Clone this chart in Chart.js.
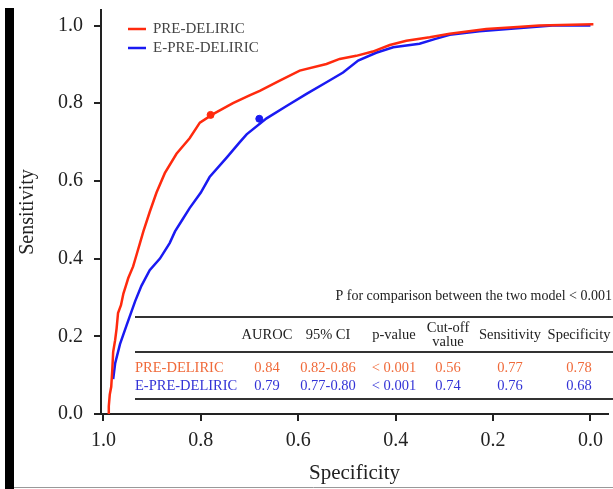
<!DOCTYPE html>
<html>
<head>
<meta charset="utf-8">
<script src="https://cdn.jsdelivr.net/npm/chart.js@4.4.1/dist/chart.umd.min.js"></script>
<style>
  html, body { margin: 0; padding: 0; background: #fff; }
  #wrap { width: 613px; height: 489px; position: relative; }
</style>
</head>
<body>
<div id="wrap"><canvas id="rocChart" width="613" height="489"></canvas></div>
<script>
// ROC curves: specificity (x, reversed axis) and sensitivity (y)
const seriesNames = ['PRE-DELIRIC', 'E-PRE-DELIRIC'];

const preSpec = [0.990, 0.989, 0.987, 0.984, 0.982, 0.980, 0.976, 0.973, 0.970, 0.964, 0.959, 0.954, 0.949, 0.939, 0.932, 0.925, 0.918, 0.905, 0.891, 0.874, 0.850, 0.823, 0.802, 0.775, 0.734, 0.700, 0.679, 0.638, 0.597, 0.542, 0.515, 0.481, 0.447, 0.412, 0.378, 0.330, 0.289, 0.214, 0.150, 0.105, -0.006];
const preSens = [0.000, 0.020, 0.050, 0.070, 0.110, 0.160, 0.190, 0.220, 0.260, 0.280, 0.310, 0.330, 0.350, 0.380, 0.410, 0.440, 0.470, 0.520, 0.570, 0.620, 0.670, 0.710, 0.750, 0.772, 0.800, 0.820, 0.832, 0.858, 0.884, 0.901, 0.914, 0.922, 0.933, 0.950, 0.961, 0.970, 0.979, 0.991, 0.996, 1.000, 1.003];

const ePreSpec = [0.980, 0.976, 0.966, 0.952, 0.935, 0.922, 0.905, 0.884, 0.864, 0.853, 0.838, 0.823, 0.800, 0.782, 0.747, 0.720, 0.706, 0.665, 0.624, 0.583, 0.542, 0.508, 0.477, 0.440, 0.405, 0.351, 0.320, 0.289, 0.228, 0.150, 0.078, 0.000];
const ePreSens = [0.090, 0.130, 0.180, 0.230, 0.290, 0.330, 0.370, 0.400, 0.440, 0.470, 0.500, 0.530, 0.570, 0.610, 0.660, 0.700, 0.720, 0.761, 0.793, 0.824, 0.854, 0.879, 0.910, 0.930, 0.944, 0.953, 0.965, 0.976, 0.985, 0.993, 1.000, 1.000];

const axisTicks = [0, 0.2, 0.4, 0.6, 0.8, 1.0];

// table shown inside the plot
const tableHeaders = ['AUROC', '95% CI', 'p-value', ['Cut-off', 'value'], 'Sensitivity', 'Specificity'];
const auroc = ['0.84', '0.79'];
const ci95 = ['0.82-0.86', '0.77-0.80'];
const pValue = ['< 0.001', '< 0.001'];
const cutOff = ['0.56', '0.74'];
const sensAtCut = [0.77, 0.76];
const specAtCut = [0.78, 0.68];
const compareNote = 'P for comparison between the two model < 0.001';

const lineColors = ['#ff2a0e', '#1a1af2'];
const textColors = ['#f06a3a', '#3333d6'];
const FONT = '"Liberation Serif", "Times New Roman", serif';

function toPoints(xs, ys) {
    return xs.map((x, i) => ({ x: x, y: ys[i] }));
}

const fixTicks = function(scale) {
    scale.ticks = axisTicks.map(v => ({ value: v }));
};

const decorPlugin = {
    id: 'decor',
    beforeDraw(chart) {
        const ctx = chart.ctx;
        ctx.save();
        // black bar on the left and thin frame line at the bottom
        ctx.fillStyle = '#000';
        ctx.fillRect(5, 8, 9, 481);
        ctx.strokeStyle = '#999';
        ctx.lineWidth = 1;
        ctx.beginPath();
        ctx.moveTo(14, 487.5);
        ctx.lineTo(613, 487.5);
        ctx.stroke();
        ctx.restore();
    },
    afterDraw(chart) {
        const ctx = chart.ctx;
        ctx.save();

        // legend
        ctx.font = '15px ' + FONT;
        ctx.textBaseline = 'middle';
        ctx.textAlign = 'left';
        seriesNames.forEach((name, i) => {
            const y = 29 + i * 19;
            ctx.strokeStyle = lineColors[i];
            ctx.lineWidth = 2.5;
            ctx.beginPath();
            ctx.moveTo(128, y);
            ctx.lineTo(146, y);
            ctx.stroke();
            ctx.fillStyle = '#444';
            ctx.fillText(name, 153, y);
        });

        // comparison note
        ctx.font = '14px ' + FONT;
        ctx.fillStyle = '#222';
        ctx.textAlign = 'right';
        ctx.fillText(compareNote, 612, 296);

        // table rules
        ctx.strokeStyle = '#333';
        ctx.lineWidth = 2;
        [317, 352, 399].forEach(y => {
            ctx.beginPath();
            ctx.moveTo(135, y);
            ctx.lineTo(613, y);
            ctx.stroke();
        });

        // header
        const colX = [267, 328, 394, 448, 510, 579];
        ctx.font = '14.5px ' + FONT;
        ctx.textAlign = 'center';
        ctx.fillStyle = '#222';
        tableHeaders.forEach((h, c) => {
            if (Array.isArray(h)) {
                ctx.fillText(h[0], colX[c], 328);
                ctx.fillText(h[1], colX[c], 342);
            } else {
                ctx.fillText(h, colX[c], 335);
            }
        });

        // rows
        seriesNames.forEach((name, r) => {
            const y = 368 + r * 18;
            ctx.fillStyle = textColors[r];
            ctx.textAlign = 'left';
            ctx.fillText(name, 135, y);
            ctx.textAlign = 'center';
            const cells = [auroc[r], ci95[r], pValue[r], cutOff[r], sensAtCut[r].toFixed(2), specAtCut[r].toFixed(2)];
            cells.forEach((v, c) => ctx.fillText(v, colX[c], y));
        });

        ctx.restore();
    }
};

window.onload = function() {
    const ctx = document.getElementById('rocChart').getContext('2d');

    new Chart(ctx, {
        type: 'scatter',
        data: {
            datasets: [
                {
                    label: seriesNames[0],
                    data: toPoints(preSpec, preSens),
                    showLine: true,
                    borderColor: lineColors[0],
                    borderWidth: 2.5,
                    pointRadius: 0,
                    tension: 0
                },
                {
                    label: seriesNames[1],
                    data: toPoints(ePreSpec, ePreSens),
                    showLine: true,
                    borderColor: lineColors[1],
                    borderWidth: 2.5,
                    pointRadius: 0,
                    tension: 0
                },
                {
                    label: 'cut-off ' + seriesNames[0],
                    data: [{ x: specAtCut[0], y: sensAtCut[0] }],
                    pointRadius: 3.5,
                    backgroundColor: lineColors[0],
                    borderColor: lineColors[0]
                },
                {
                    label: 'cut-off ' + seriesNames[1],
                    data: [{ x: specAtCut[1], y: sensAtCut[1] }],
                    pointRadius: 3.5,
                    backgroundColor: lineColors[1],
                    borderColor: lineColors[1]
                }
            ]
        },
        options: {
            responsive: false,
            animation: false,
            layout: { padding: { left: 0, right: 1, top: 10, bottom: 0 } },
            plugins: {
                legend: { display: false },
                tooltip: { enabled: false }
            },
            scales: {
                x: {
                    type: 'linear',
                    reverse: true,
                    min: -0.036,
                    max: 1.005,
                    afterBuildTicks: fixTicks,
                    afterFit: function(scale) { scale.height = 75; },
                    grid: { drawOnChartArea: false, drawTicks: true, tickLength: 7, color: '#222', lineWidth: 2 },
                    border: { display: true, color: '#222', width: 2 },
                    ticks: {
                        padding: 8,
                        color: '#222',
                        font: { family: FONT, size: 20 },
                        callback: v => v.toFixed(1)
                    },
                    title: {
                        display: true,
                        text: 'Specificity',
                        color: '#222',
                        font: { family: FONT, size: 21 },
                        padding: { top: 0, bottom: 3 }
                    }
                },
                y: {
                    type: 'linear',
                    min: 0,
                    max: 1.04,
                    afterBuildTicks: fixTicks,
                    afterFit: function(scale) {
                        scale.width = 101;
                        scale.paddingTop = 0;
                        scale.paddingBottom = 0;
                    },
                    grid: { drawOnChartArea: false, drawTicks: true, tickLength: 7, color: '#222', lineWidth: 2 },
                    border: { display: true, color: '#222', width: 2 },
                    ticks: {
                        padding: 11,
                        color: '#222',
                        font: { family: FONT, size: 20 },
                        callback: v => v.toFixed(1)
                    },
                    title: {
                        display: true,
                        text: 'Sensitivity',
                        color: '#222',
                        font: { family: FONT, size: 20 },
                        padding: { top: 16, bottom: 0 }
                    }
                }
            }
        },
        plugins: [decorPlugin]
    });
};
</script>
</body>
</html>
